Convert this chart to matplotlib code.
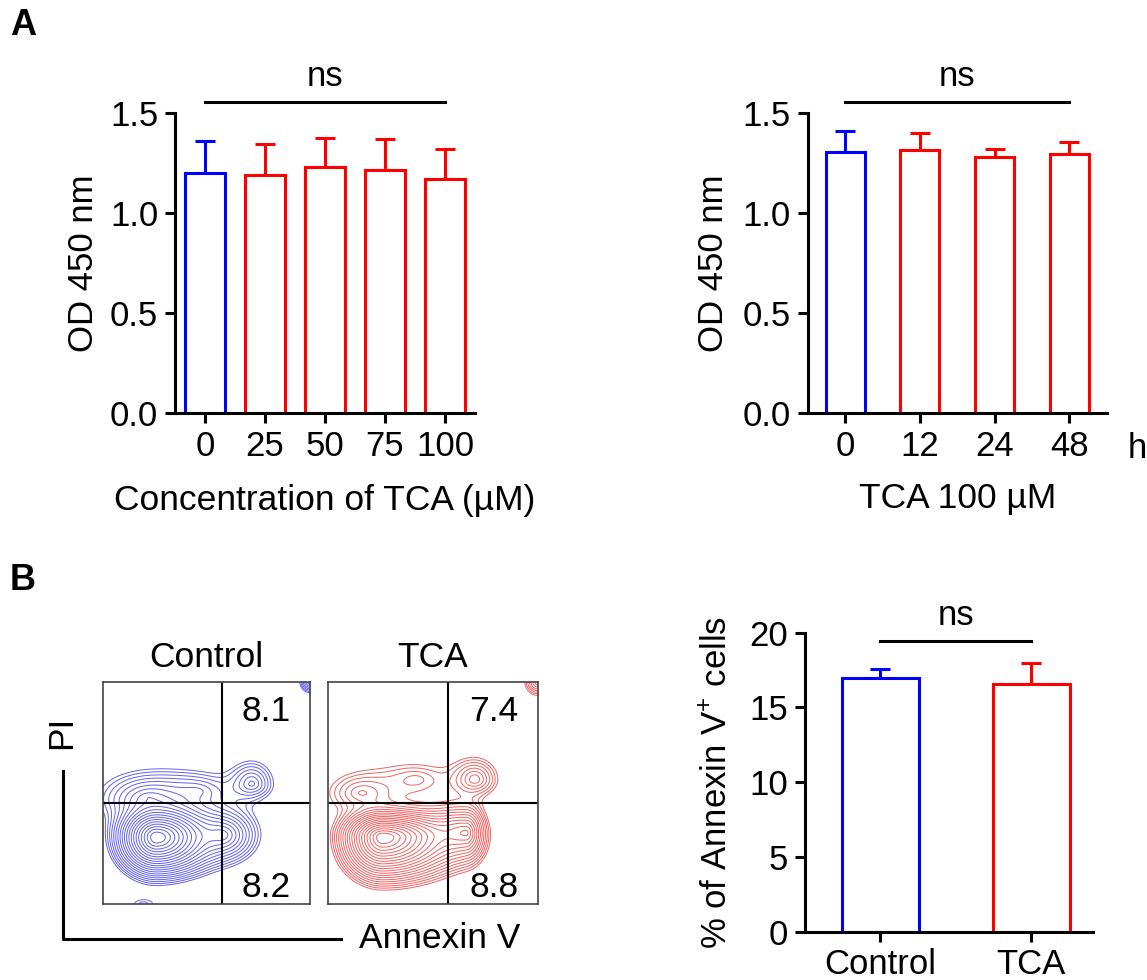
import numpy as np
import matplotlib
matplotlib.use('Agg')
import matplotlib.pyplot as plt
from matplotlib.lines import Line2D

plt.rcParams['font.family'] = ['Liberation Sans', 'DejaVu Sans']
plt.rcParams['mathtext.fontset'] = 'custom'
plt.rcParams['mathtext.rm'] = 'Liberation Sans'
plt.rcParams['mathtext.it'] = 'Liberation Sans:italic'

# ---- data ----
dose_labels = ['0', '25', '50', '75', '100']
dose_mean = [1.20, 1.19, 1.23, 1.215, 1.17]
dose_err = [0.16, 0.155, 0.145, 0.158, 0.152]

time_labels = ['0', '12', '24', '48']
time_mean = [1.305, 1.315, 1.28, 1.295]
time_err = [0.105, 0.085, 0.04, 0.063]

apop_labels = ['Control', 'TCA']
apop_mean = [17.0, 16.55]
apop_err = [0.6, 1.4]

ctrl_quads = ['8.1', '8.2']
tca_quads = ['7.4', '8.8']

# density blobs, in gate-box fractions
# centre, left/right x-spread, down/up y-spread, weight
ctrl_cx = [0.26, 0.58, 0.22, 0.46, 0.72, 0.196, 1.0]
ctrl_cy = [0.30, 0.31, 0.48, 0.51, 0.54, 0.0, 1.0]
ctrl_sxl = [0.044, 0.06, 0.10, 0.08, 0.045, 0.05, 0.02]
ctrl_sxr = [0.064, 0.055, 0.10, 0.08, 0.045, 0.05, 0.02]
ctrl_syd = [0.039, 0.04, 0.04, 0.035, 0.03, 0.02, 0.02]
ctrl_syu = [0.035, 0.04, 0.05, 0.04, 0.045, 0.02, 0.02]
ctrl_w = [1.0, 0.10, 0.045, 0.022, 0.04, 0.014, 0.05]

tca_cx = [0.26, 0.66, 0.16, 0.42, 0.70, 1.0]
tca_cy = [0.30, 0.32, 0.50, 0.56, 0.56, 1.0]
tca_sxl = [0.045, 0.07, 0.08, 0.09, 0.045, 0.025]
tca_sxr = [0.08, 0.028, 0.08, 0.09, 0.045, 0.025]
tca_syd = [0.043, 0.04, 0.04, 0.045, 0.03, 0.025]
tca_syu = [0.028, 0.04, 0.045, 0.045, 0.04, 0.025]
tca_w = [1.0, 0.15, 0.03, 0.02, 0.045, 0.05]

BLUE = '#0000ff'
RED = '#ff0000'
W, H = 1147, 980


def px_rect(left, top, right, bottom):
    return [left / W, 1 - bottom / H, (right - left) / W, (bottom - top) / H]


def fx(x):
    return x / W


def fy(y):
    return 1 - y / H


def style_axes(ax):
    for s in ['top', 'right']:
        ax.spines[s].set_visible(False)
    for s in ['left', 'bottom']:
        ax.spines[s].set_linewidth(2.2)
        ax.spines[s].set_zorder(5)
    ax.tick_params(width=2.2, length=7, labelsize=25, pad=5, direction='out')


def bar_panel(ax, labels, mean, err, width):
    x = np.arange(len(labels))
    colors = [BLUE] + [RED] * (len(labels) - 1)
    for i in range(len(labels)):
        ax.errorbar(x[i], mean[i], yerr=[[0], [err[i]]], fmt='none',
                    ecolor=colors[i], elinewidth=2.2, capsize=7.5,
                    capthick=2.2, zorder=1)
        ax.bar(x[i], mean[i], width, facecolor='white',
               edgecolor=colors[i], linewidth=2.2, zorder=2)
    ax.set_xticks(x)
    ax.set_xticklabels(labels)
    style_axes(ax)


def sig_bar(ax, x0, x1, y, ytext):
    ax.plot([x0, x1], [y, y], color='black', lw=2.2, clip_on=False)
    ax.text((x0 + x1) / 2, ytext, 'ns', ha='center', va='baseline',
            fontsize=25, clip_on=False)


fig = plt.figure(figsize=(W / 100, H / 100), dpi=100)

# ---- A left ----
ax1 = fig.add_axes(px_rect(175, 113.3, 475, 413.3))
bar_panel(ax1, dose_labels, dose_mean, dose_err, 0.67)
ax1.set_xlim(-0.5, 4.5)
ax1.set_ylim(0, 1.5)
ax1.set_yticks([0, 0.5, 1.0, 1.5])
ax1.set_yticklabels(['0.0', '0.5', '1.0', '1.5'])
ax1.set_ylabel('OD 450 nm', fontsize=25)
ax1.yaxis.set_label_coords(-0.25, 0.5)
ax1.set_xlabel('Concentration of TCA (µM)', fontsize=25.5)
ax1.xaxis.set_label_coords(0.5, -0.235)
sig_bar(ax1, 0, 4, 1.555, 1.638)

# ---- A right ----
ax2 = fig.add_axes(px_rect(807.7, 113.3, 1106.7, 413.3))
bar_panel(ax2, time_labels, time_mean, time_err, 0.52)
ax2.set_xlim(-0.5, 3.5)
ax2.set_ylim(0, 1.5)
ax2.set_yticks([0, 0.5, 1.0, 1.5])
ax2.set_yticklabels(['0.0', '0.5', '1.0', '1.5'])
ax2.set_ylabel('OD 450 nm', fontsize=25)
ax2.yaxis.set_label_coords(-0.26, 0.5)
ax2.set_xlabel('TCA 100 µM', fontsize=25.5)
ax2.xaxis.set_label_coords(0.5, -0.23)
sig_bar(ax2, 0, 3, 1.555, 1.638)
fig.text(fx(1137), fy(448), 'h', fontsize=25, ha='center', va='center')

# ---- B right ----
ax3 = fig.add_axes(px_rect(805, 632.7, 1093, 931.7))
bar_panel(ax3, apop_labels, apop_mean, apop_err, 0.51)
ax3.set_xlim(-0.5, 1.41)
ax3.set_ylim(0, 20)
ax3.set_yticks([0, 5, 10, 15, 20])
ax3.set_ylabel('% of Annexin V$^{+}$ cells', fontsize=25)
ax3.yaxis.set_label_coords(-0.245, 0.5)
sig_bar(ax3, 0, 1, 19.45, 20.5)

# ---- B flow plots ----
gx = np.linspace(0, 1, 500)
GX, GY = np.meshgrid(gx, gx)


def density(cx, cy, sxl, sxr, syd, syu, w):
    z = np.zeros_like(GX)
    for i in range(len(cx)):
        sx = np.where(GX < cx[i], sxl[i], sxr[i])
        sy = np.where(GY < cy[i], syd[i], syu[i])
        r2 = ((GX - cx[i]) / sx) ** 2 + ((GY - cy[i]) / sy) ** 2
        z += w[i] * np.exp(-0.5 * r2 ** 0.65)
    return z


flow = [
    (px_rect(102.7, 681.7, 310, 904), 'Control', ctrl_quads,
     density(ctrl_cx, ctrl_cy, ctrl_sxl, ctrl_sxr, ctrl_syd, ctrl_syu,
             ctrl_w), '#6262ee'),
    (px_rect(328.3, 681.7, 537.7, 904), 'TCA', tca_quads,
     density(tca_cx, tca_cy, tca_sxl, tca_sxr, tca_syd, tca_syu, tca_w),
     '#f06464'),
]
for rect, title, quads, z, col in flow:
    ax = fig.add_axes(rect)
    levels = z.max() * np.geomspace(0.01, 0.75, 20)
    ax.contour(GX, GY, z, levels=levels, colors=col, linewidths=0.7)
    ax.axvline(0.574, color='black', lw=1.5)
    ax.axhline(0.456, color='black', lw=1.5)
    ax.set_xlim(0, 1)
    ax.set_ylim(0, 1)
    ax.set_xticks([])
    ax.set_yticks([])
    for s in ax.spines.values():
        s.set_color('#444444')
        s.set_linewidth(1.2)
    ax.text(0.5, 1.068, title, transform=ax.transAxes, ha='center',
            va='baseline', fontsize=25.5)
    ax.text(0.79, 0.825, quads[0], transform=ax.transAxes, ha='center',
            va='baseline', fontsize=25.5)
    ax.text(0.79, 0.033, quads[1], transform=ax.transAxes, ha='center',
            va='baseline', fontsize=25.5)

# PI / Annexin V guide axes
fig.add_artist(Line2D([fx(62.7), fx(62.7), fx(341)],
                      [fy(770.7), fy(939.3), fy(939.3)],
                      color='black', lw=2.2, transform=fig.transFigure))
fig.text(fx(61.7), fy(732), 'PI', rotation=90, fontsize=25.5,
         ha='center', va='center')
fig.text(fx(440), fy(938), 'Annexin V', fontsize=25.5, ha='center',
         va='center')

# panel letters
fig.text(fx(10), fy(35), 'A', fontsize=26, fontweight='bold', va='baseline')
fig.text(fx(10), fy(590), 'B', fontsize=26, fontweight='bold', va='baseline')

fig.savefig('out.png', dpi=100)
